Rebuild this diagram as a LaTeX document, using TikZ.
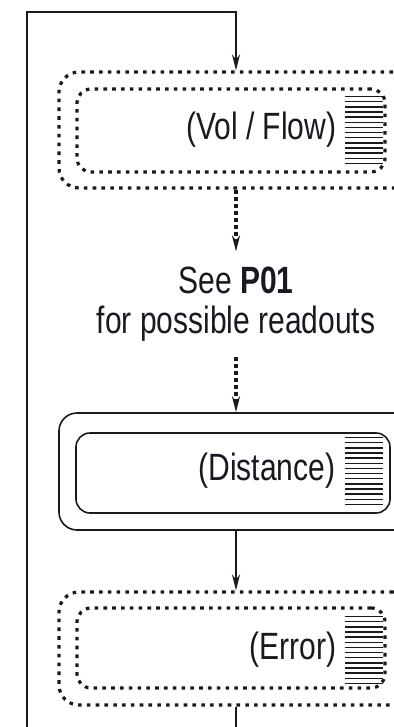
\documentclass[tikz,border=0pt]{standalone}
\usepackage{fontspec}
\setmainfont{Liberation Sans}[FakeStretch=0.79]
\usepackage{tikz}
\usetikzlibrary{
    arrows.meta,
    positioning,
    calc,
    fit
}
\definecolor{inkblack}{rgb}{0.1, 0.1, 0.13}
\tikzstyle{dotbox} = [
    rectangle,
    draw=inkblack,
    line width=1.6pt,
    dash pattern=on 1.8pt off 2.6pt,
    inner sep=0pt
]
\tikzstyle{outerdot} = [dotbox, rounded corners=10pt]
\tikzstyle{innerdot} = [dotbox, rounded corners=7pt]
\tikzstyle{plainbox} = [
    rectangle,
    draw=inkblack,
    line width=0.8pt,
    inner sep=0pt
]
\tikzstyle{hatchbox} = [rectangle, inner sep=0pt]
\tikzstyle{hatchline} = [draw=inkblack, line width=0.75pt]
\tikzstyle{readout} = [
    inner sep=0pt,
    text=inkblack,
    font=\fontsize{19}{20}\selectfont
]
\tikzstyle{flow} = [draw=inkblack, line width=1pt]
\tikzstyle{flowarrow} = [flow, -{Stealth[length=8pt, width=4pt]}]
\tikzstyle{dotarrow} = [flowarrow, line width=1.6pt, dash pattern=on 2pt off 1.5pt]
\newcommand{\hatchlines}[1]{%
    \foreach \k in {0,...,13}
        \draw[hatchline] ($(#1.north west)!\k/13!(#1.south west)$) -- ($(#1.north east)!\k/13!(#1.south east)$);%
}

\begin{document}
\begin{tikzpicture}[x=0.5pt, y=-0.5pt]
        \useasboundingbox (0,0) rectangle (394,727);
        \clip (0,0) rectangle (394,727);

        % Loop ends
        \coordinate (loopstart) at (27,727);
        \coordinate (loopcorner) at (27,12);
        \coordinate (loopend) at (236,727);

        % Vol / Flow
        \node[outerdot, fit={(59,72) (413,188)}] (volout) {};
        \node[innerdot, fit={(77,89) (385,172)}] (volin) {};
        \node[hatchbox, fit={(345,97) (383,163)}] (volhatch) {};
        \hatchlines{volhatch}
        \node[readout, left=4pt of volhatch] (voltext) {(Vol / Flow)};

        % Note
        \node[readout, align=center, inner ysep=7.5pt] at (236,304) (seetext)
            {See \textbf{P01}\\for possible readouts};

        % Distance
        \node[plainbox, rounded corners=9pt, fit={(59,413) (413,530)}] (distout) {};
        \node[plainbox, rounded corners=7pt, fit={(76,433) (390,513)}] (distin) {};
        \node[hatchbox, fit={(345,438) (383,504)}] (disthatch) {};
        \hatchlines{disthatch}
        \node[readout, left=4.5pt of disthatch] (disttext) {(Distance)};

        % Error
        \node[outerdot, fit={(59,592) (413,705)}] (errout) {};
        \node[innerdot, fit={(77,608) (385,688)}] (errin) {};
        \node[hatchbox, fit={(345,617) (383,683)}] (errhatch) {};
        \hatchlines{errhatch}
        \node[readout, left=4pt of errhatch] (errtext) {(Error)};

        % Arrows
        \draw[flowarrow] (loopstart) -- (loopcorner) -| (volout.north);
        \draw[dotarrow] (volout.south) -- (seetext.north);
        \draw[dotarrow] (seetext.south) -- (distout.north);
        \draw[flowarrow] (distout.south) -- (errout.north);
        \draw[flow] (errout.south) -- (loopend);
    \end{tikzpicture}
\end{document}
